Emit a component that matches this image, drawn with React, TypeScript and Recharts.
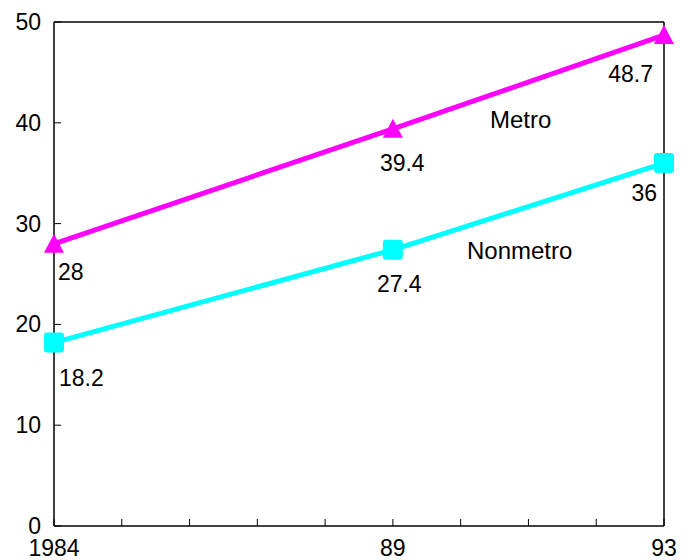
import React from "react"
import { LineChart, Line, XAxis, YAxis, ReferenceLine, LabelList } from "recharts"

// Per-capita values, metro vs nonmetro areas
const years = [1984, 1989, 1993]
const metro = [28, 39.4, 48.7]
const nonmetro = [18.2, 27.4, 36]
const yearTicks = [1984, 1985, 1986, 1987, 1988, 1989, 1990, 1991, 1992, 1993]
const yearLabels: Record<number, string> = { 1984: "1984", 1989: "89", 1993: "93" }
const valueTicks = [0, 10, 20, 30, 40, 50]

const data = years.map((year, i) => ({ year, metro: metro[i], nonmetro: nonmetro[i] }))

const AXIS_FONT = "'Liberation Sans', Arial, sans-serif"
const NARROW_FONT = "'Liberation Sans Narrow', 'Arial Narrow', sans-serif"

// label placement around each point: [dx, dy, anchor]
const metroLabelPos: [number, number, string][] = [
  [4, 36, "start"],
  [-13, 42, "start"],
  [-11, 47, "end"],
]
const nonmetroLabelPos: [number, number, string][] = [
  [5, 43, "start"],
  [-16, 42, "start"],
  [-7, 38, "end"],
]

const XTick = (props: any) => {
  const { x, y, payload } = props
  const label = yearLabels[payload.value] ?? ""
  return (
    <g>
      <line x1={x} y1={y} x2={x} y2={y - 7} stroke="#000" strokeWidth={1} />
      {label && (
        <text x={x} y={y + 30} textAnchor="middle" fontSize={23} fontFamily={AXIS_FONT} fill="#000">
          {label}
        </text>
      )}
    </g>
  )
}

const YTick = (props: any) => {
  const { x, y, payload } = props
  return (
    <g>
      <line x1={x} y1={y} x2={x + 7} y2={y} stroke="#000" strokeWidth={1} />
      <text x={x - 13} y={y + 8} textAnchor="end" fontSize={23} fontFamily={AXIS_FONT} fill="#000">
        {payload.value}
      </text>
    </g>
  )
}

const Triangle = (props: any) => {
  const { cx, cy } = props
  if (cx == null || cy == null) return null
  return <polygon points={`${cx},${cy - 10} ${cx - 10},${cy + 9} ${cx + 10},${cy + 9}`} fill="#FF00FF" />
}

const Square = (props: any) => {
  const { cx, cy } = props
  if (cx == null || cy == null) return null
  return <rect x={cx - 10} y={cy - 10} width={20} height={20} rx={3} fill="#00FFFF" />
}

const makeLabel = (pos: [number, number, string][]) => (props: any) => {
  const { x, y, value, index } = props
  const [dx, dy, anchor] = pos[index]
  return (
    <text x={x + dx} y={y + dy} textAnchor={anchor} fontSize={23} fontFamily={NARROW_FONT} fill="#000">
      {value}
    </text>
  )
}

export default function App() {
  return (
    <div style={{ position: "absolute", left: 0, top: 0, background: "#fff" }}>
      <LineChart width={690} height={560} data={data} margin={{ top: 22, right: 26, left: 0, bottom: 0 }}>
        <XAxis
          dataKey="year"
          type="number"
          domain={[1984, 1993]}
          ticks={yearTicks}
          interval={0}
          height={34}
          tickSize={0}
          tickMargin={0}
          tickLine={false}
          axisLine={{ stroke: "#000", strokeWidth: 1.5 }}
          tick={<XTick />}
        />
        <YAxis
          type="number"
          domain={[0, 50]}
          ticks={valueTicks}
          interval={0}
          width={54}
          tickSize={0}
          tickMargin={0}
          tickLine={false}
          axisLine={{ stroke: "#000", strokeWidth: 1.5 }}
          tick={<YTick />}
        />
        <ReferenceLine y={50} stroke="#000" strokeWidth={1.5} />
        <ReferenceLine x={1993} stroke="#000" strokeWidth={1.5} />
        <Line
          dataKey="metro"
          stroke="#FF00FF"
          strokeWidth={5}
          dot={<Triangle />}
          isAnimationActive={false}
        >
          <LabelList dataKey="metro" content={makeLabel(metroLabelPos)} />
        </Line>
        <Line
          dataKey="nonmetro"
          stroke="#00FFFF"
          strokeWidth={5}
          dot={<Square />}
          isAnimationActive={false}
        >
          <LabelList dataKey="nonmetro" content={makeLabel(nonmetroLabelPos)} />
        </Line>
        <text x={490} y={128} fontSize={24} fontFamily={AXIS_FONT} fill="#000">Metro</text>
        <text x={467} y={259} fontSize={24} fontFamily={AXIS_FONT} fill="#000">Nonmetro</text>
      </LineChart>
    </div>
  )
}
